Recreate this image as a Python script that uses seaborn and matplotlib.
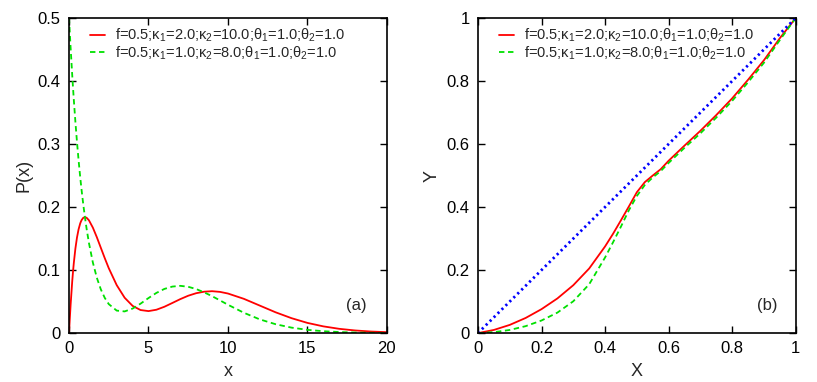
import matplotlib
matplotlib.use("Agg")
import matplotlib.pyplot as plt
import seaborn as sns

# Panel (a): mixture densities
x_vals = [0, 0.05, 0.1, 0.2, 0.25, 0.3, 0.4, 0.5, 0.6, 0.7, 0.75, 0.8, 0.9, 1, 1.1,
          1.25, 1.5, 1.75, 2, 2.25, 2.5, 3, 3.5, 4, 4.5, 5, 5.5, 6, 6.5, 7, 7.5, 8,
          8.5, 9, 9.5, 10, 11, 12, 13, 14, 15, 16, 17, 18, 19, 20]
p_red = [0, 0.0238, 0.0452, 0.0819, 0.0974, 0.1111, 0.1341, 0.1516, 0.1646, 0.1738,
         0.1771, 0.1797, 0.1830, 0.1839, 0.1831, 0.1791, 0.1673, 0.1521, 0.1354,
         0.1188, 0.1030, 0.0761, 0.0561, 0.0432, 0.0366, 0.0349, 0.0371, 0.0418,
         0.0478, 0.0539, 0.0593, 0.0633, 0.0657, 0.0665, 0.0654, 0.0628, 0.0544,
         0.0437, 0.0330, 0.0237, 0.0162, 0.0107, 0.0068, 0.0042, 0.0025, 0.0015]
p_green = [0.5, 0.4756, 0.4524, 0.4094, 0.3894, 0.3704, 0.3352, 0.3033, 0.2744,
           0.2483, 0.2362, 0.2247, 0.2033, 0.1840, 0.1665, 0.1433, 0.1119, 0.0878,
           0.0694, 0.0558, 0.0460, 0.0357, 0.0344, 0.0389, 0.0467, 0.0556, 0.0638,
           0.0701, 0.0738, 0.0750, 0.0735, 0.0699, 0.0647, 0.0586, 0.0519, 0.0450,
           0.0323, 0.0218, 0.0141, 0.0087, 0.0052, 0.0030, 0.0017, 0.0009, 0.0005,
           0.0003]

# Panel (b): X-Y curves
X_vals = [0, 0.05, 0.1, 0.15, 0.2, 0.25, 0.3, 0.35, 0.4, 0.425, 0.45, 0.475, 0.5,
          0.525, 0.55, 0.575, 0.6, 0.65, 0.7, 0.75, 0.8, 0.85, 0.9, 0.95, 1.0]
Y_red = [0, 0.010, 0.026, 0.048, 0.076, 0.110, 0.152, 0.205, 0.275, 0.315, 0.358,
         0.402, 0.447, 0.479, 0.50, 0.52, 0.547, 0.595, 0.642, 0.692, 0.745, 0.804,
         0.866, 0.936, 1.0]
Y_green = [0, 0.003, 0.010, 0.022, 0.040, 0.065, 0.101, 0.155, 0.240, 0.288, 0.338,
           0.39, 0.435, 0.470, 0.494, 0.514, 0.540, 0.588, 0.634, 0.684, 0.737, 0.796,
           0.858, 0.930, 1.0]
diag = [0, 1]

label_red = "f=0.5;κ$_1$=2.0;κ$_2$=10.0;θ$_1$=1.0;θ$_2$=1.0"
label_green = "f=0.5;κ$_1$=1.0;κ$_2$=8.0;θ$_1$=1.0;θ$_2$=1.0"

sns.set_style("ticks")
plt.rcParams["font.family"] = ["Liberation Sans", "DejaVu Sans"]
plt.rcParams["mathtext.fontset"] = "custom"
plt.rcParams["mathtext.rm"] = "Liberation Sans"
plt.rcParams["mathtext.it"] = "Liberation Sans"

fig = plt.figure(figsize=(8.17, 3.82), dpi=100)
ax1 = fig.add_axes([0.0845, 0.128, 0.389, 0.825])
ax2 = fig.add_axes([0.585, 0.128, 0.389, 0.825])

# Left panel
sns.lineplot(x=x_vals, y=p_red, ax=ax1, color="red", lw=1.3, label=label_red)
sns.lineplot(x=x_vals, y=p_green, ax=ax1, color="#00e000", lw=1.3,
             linestyle=(0, (3, 2)), label=label_green)
ax1.set_xlim(0, 20)
ax1.set_ylim(0, 0.5)
ax1.set_xticks([0, 5, 10, 15, 20])
ax1.set_yticks([0, 0.1, 0.2, 0.3, 0.4, 0.5])
ax1.set_yticklabels(["0", "0.1", "0.2", "0.3", "0.4", "0.5"])
ax1.set_xlabel("x", fontsize=13, labelpad=5)
ax1.set_ylabel("P(x)", fontsize=13)
ax1.text(18.1, 0.044, "(a)", fontsize=12, ha="center", va="center")

# Right panel
sns.lineplot(x=X_vals, y=Y_red, ax=ax2, color="red", lw=1.3, label=label_red)
sns.lineplot(x=X_vals, y=Y_green, ax=ax2, color="#00e000", lw=1.3,
             linestyle=(0, (3, 2)), label=label_green)
ax2.plot(diag, diag, color="blue", lw=2, linestyle=(0, (0.8, 1.2)))
ax2.set_xlim(0, 1)
ax2.set_ylim(0, 1)
ax2.set_xticks([0, 0.2, 0.4, 0.6, 0.8, 1])
ax2.set_xticklabels(["0", "0.2", "0.4", "0.6", "0.8", "1"])
ax2.set_yticks([0, 0.2, 0.4, 0.6, 0.8, 1])
ax2.set_yticklabels(["0", "0.2", "0.4", "0.6", "0.8", "1"])
ax2.set_xlabel("X", fontsize=13, labelpad=5)
ax2.set_ylabel("Y", fontsize=13)
ax2.text(0.909, 0.089, "(b)", fontsize=12, ha="center", va="center")

for ax in (ax1, ax2):
    ax.tick_params(direction="in", length=5, width=1, top=True, right=True,
                   labelsize=12, pad=6, colors="black")
    for s in ax.spines.values():
        s.set_linewidth(1.2)
        s.set_color("black")
    ax.legend(loc="upper left", frameon=False, fontsize=10.5, handlelength=1.0,
              handletextpad=0.7, labelspacing=0.0, borderaxespad=0.2,
              bbox_to_anchor=(0.04, 1.0))

fig.savefig("out.png", dpi=100)
